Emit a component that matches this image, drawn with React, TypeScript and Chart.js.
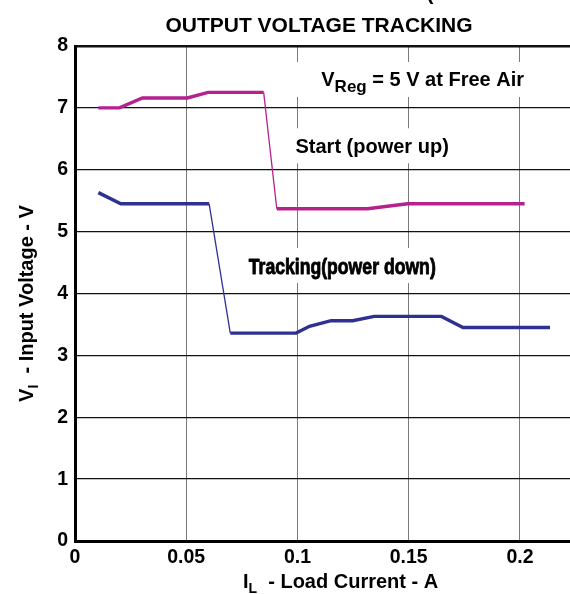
import { useEffect, useRef } from "react";
import { Chart, registerables } from "chart.js";
Chart.register(...registerables);

// Start (power up) curve
const startCurrent = [0.0105, 0.02, 0.0303, 0.0505, 0.0598, 0.0848, 0.0907, 0.1315, 0.1495, 0.2021];
const startVoltage = [7.0, 7.0, 7.16, 7.16, 7.25, 7.25, 5.37, 5.37, 5.45, 5.45];
// Tracking (power down) curve
const trackCurrent = [0.0105, 0.0206, 0.0603, 0.0698, 0.0994, 0.1054, 0.1151, 0.1248, 0.1345, 0.1647, 0.1744, 0.2135];
const trackVoltage = [5.63, 5.45, 5.45, 3.36, 3.36, 3.47, 3.56, 3.56, 3.63, 3.63, 3.45, 3.45];

const xTickValues = [0, 0.05, 0.1, 0.15, 0.2];
const xTickLabels = ["0", "0.05", "0.1", "0.15", "0.2"];
const yTickValues = [0, 1, 2, 3, 4, 5, 6, 7, 8];
const yTickLabels = ["0", "1", "2", "3", "4", "5", "6", "7", "8"];

const FONT = '"Liberation Sans", Arial, Helvetica, sans-serif';
const MAGENTA = "#B3228F";
const BLUE = "#2E3192";

type Part = { t: string; size: number; dy: number };

function measureParts(ctx: CanvasRenderingContext2D, parts: Part[]) {
  let w = 0;
  for (const p of parts) {
    ctx.font = `bold ${p.size}px ${FONT}`;
    w += ctx.measureText(p.t).width;
  }
  return w;
}

function drawParts(ctx: CanvasRenderingContext2D, parts: Part[], x: number, y: number) {
  let cx = x;
  ctx.textAlign = "left";
  ctx.textBaseline = "alphabetic";
  for (const p of parts) {
    ctx.font = `bold ${p.size}px ${FONT}`;
    ctx.fillText(p.t, cx, y + p.dy);
    cx += ctx.measureText(p.t).width;
  }
  return cx - x;
}

const textPlugin = {
  id: "chartTexts",
  beforeDatasetsDraw(chart: any) {
    const { ctx } = chart;
    const xs = chart.scales.x;
    const ys = chart.scales.y;
    ctx.save();
    ctx.fillStyle = "#000";

    // V_Reg annotation
    const vregParts: Part[] = [
      { t: "V", size: 20, dy: 0 },
      { t: "Reg", size: 17, dy: 6.5 },
      { t: " = 5 V at Free Air", size: 20, dy: 0 },
    ];
    {
      const px = xs.getPixelForValue(0.1107);
      const py = ys.getPixelForValue(7.354);
      const w = measureParts(ctx, vregParts);
      ctx.fillStyle = "#fff";
      ctx.fillRect(px - 26, py - 24, w + 38, 35);
      ctx.fillStyle = "#000";
      drawParts(ctx, vregParts, px, py);
    }

    // Start (power up)
    {
      const px = xs.getPixelForValue(0.0991);
      const py = ys.getPixelForValue(6.266);
      ctx.font = `bold 20px ${FONT}`;
      const w = ctx.measureText("Start (power up)").width;
      ctx.fillStyle = "#fff";
      ctx.fillRect(px - 7, py - 25, w + 14, 35);
      ctx.fillStyle = "#000";
      ctx.textAlign = "left";
      ctx.textBaseline = "alphabetic";
      ctx.fillText("Start (power up)", px, py);
    }

    // Tracking (power down) - condensed
    {
      const px = xs.getPixelForValue(0.0781);
      const py = ys.getPixelForValue(4.315);
      const txt = "Tracking(power down)";
      ctx.font = `bold 22px ${FONT}`;
      const w = ctx.measureText(txt).width;
      const target = 187;
      ctx.fillStyle = "#fff";
      ctx.fillRect(px - 8, py - 26, target + 18, 35);
      ctx.fillStyle = "#000";
      ctx.strokeStyle = "#000";
      ctx.lineWidth = 0.9;
      ctx.lineJoin = "round";
      ctx.save();
      ctx.translate(px, py);
      ctx.scale(target / w, 1);
      ctx.textAlign = "left";
      ctx.textBaseline = "alphabetic";
      ctx.fillText(txt, 0, 0);
      ctx.strokeText(txt, 0, 0);
      ctx.restore();
    }
    ctx.restore();
  },
  afterDraw(chart: any) {
    const { ctx, chartArea } = chart;
    ctx.save();
    ctx.fillStyle = "#000";

    // cut-off glyph at the very top
    ctx.font = `bold 21px ${FONT}`;
    ctx.textAlign = "center";
    ctx.textBaseline = "alphabetic";
    ctx.fillText("(", 430, 0);

    // Title
    ctx.font = `bold 21px ${FONT}`;
    ctx.textAlign = "center";
    ctx.textBaseline = "alphabetic";
    ctx.fillText("OUTPUT VOLTAGE TRACKING", 319, 32);

    // X axis title
    const xParts: Part[] = [
      { t: "I", size: 20, dy: 0 },
      { t: "L", size: 14, dy: 5 },
      { t: "  - Load Current - A", size: 20, dy: 0 },
    ];
    drawParts(ctx, xParts, 243, 588);

    // Y axis title
    const yParts: Part[] = [
      { t: "V", size: 20, dy: 0 },
      { t: "I", size: 14, dy: 5 },
      { t: "  - Input Voltage - V", size: 20, dy: 0 },
    ];
    const yw = measureParts(ctx, yParts);
    ctx.save();
    ctx.translate(33, (chartArea.top + chartArea.bottom) / 2 + 10);
    ctx.rotate(-Math.PI / 2);
    drawParts(ctx, yParts, -yw / 2, 0);
    ctx.restore();

    ctx.restore();
  },
};

export default function App() {
  const ref = useRef<HTMLCanvasElement | null>(null);

  useEffect(() => {
    if (!ref.current) return;
    const tickFont = { family: FONT, size: 19.5, weight: "bold" as const };
    const segWidth = (c: any) => (Math.abs(c.p1.parsed.y - c.p0.parsed.y) > 1 ? 1.3 : 3.4);
    const chart = new Chart(ref.current, {
      type: "line",
      data: {
        datasets: [
          {
            label: "Start (power up)",
            data: startCurrent.map((x, i) => ({ x, y: startVoltage[i] })),
            borderColor: MAGENTA,
            borderWidth: 3.4,
            pointRadius: 0,
            tension: 0,
            fill: false,
            segment: { borderWidth: segWidth },
          },
          {
            label: "Tracking (power down)",
            data: trackCurrent.map((x, i) => ({ x, y: trackVoltage[i] })),
            borderColor: BLUE,
            borderWidth: 3.4,
            pointRadius: 0,
            tension: 0,
            fill: false,
            segment: { borderWidth: segWidth },
          },
        ],
      },
      options: {
        responsive: false,
        animation: false,
        devicePixelRatio: 1,
        layout: { padding: { top: 46, left: 0, right: 0, bottom: 0 } },
        plugins: {
          legend: { display: false },
          title: { display: false },
          tooltip: { enabled: false },
        },
        scales: {
          x: {
            type: "linear",
            min: 0,
            max: 0.2225,
            afterBuildTicks: (s: any) => {
              s.ticks = xTickValues.map((v) => ({ value: v }));
            },
            afterFit: (s: any) => {
              s.height = 53;
            },
            ticks: {
              autoSkip: false,
              maxRotation: 0,
              padding: 5,
              color: "#000",
              font: tickFont,
              callback: (v: any) => xTickLabels[xTickValues.indexOf(Number(v))] ?? "",
            },
            grid: { color: "#7a7a7a", lineWidth: 1, drawTicks: false },
            border: { display: true, color: "#000", width: 3 },
          },
          y: {
            type: "linear",
            min: 0,
            max: 8,
            afterBuildTicks: (s: any) => {
              s.ticks = yTickValues.map((v) => ({ value: v }));
            },
            afterFit: (s: any) => {
              s.width = 75;
            },
            ticks: {
              padding: 7,
              color: "#000",
              font: tickFont,
              callback: (v: any) => yTickLabels[yTickValues.indexOf(Number(v))] ?? "",
            },
            grid: {
              color: "#111",
              lineWidth: (c: any) => (c.tick && c.tick.value === 8 ? 2.6 : 1.3),
              drawTicks: false,
            },
            border: { display: true, color: "#000", width: 3 },
          },
        },
      },
      plugins: [textPlugin],
    });
    return () => chart.destroy();
  }, []);

  return (
    <div style={{ position: "absolute", left: 0, top: 0, width: 570, height: 594, background: "#fff" }}>
      <canvas ref={ref} width={570} height={594} style={{ display: "block", width: 570, height: 594 }} />
    </div>
  );
}
